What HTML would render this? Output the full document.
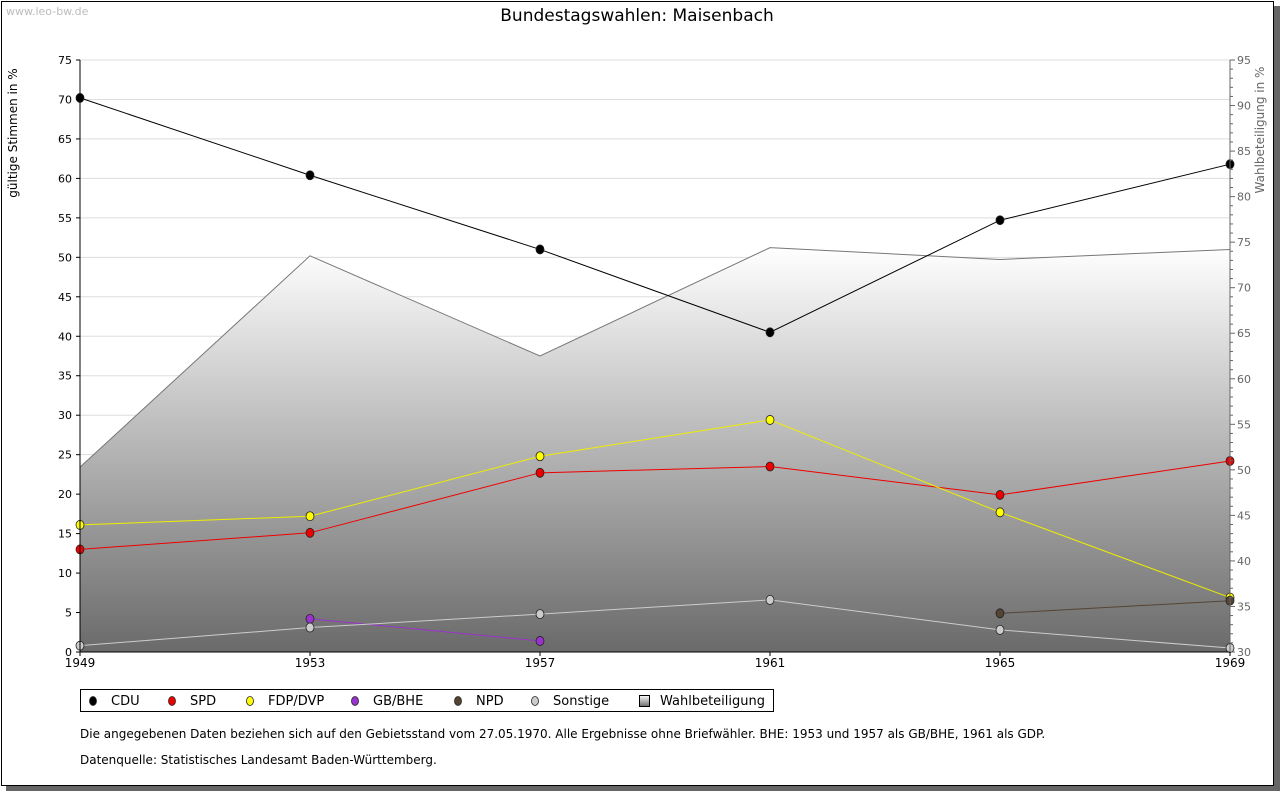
<!DOCTYPE html>
<html><head><meta charset="utf-8"><style>
body{margin:0;background:#fff;font-family:"DejaVu Sans","Liberation Sans",sans-serif}
svg text{font-family:"DejaVu Sans","Liberation Sans",sans-serif}
</style></head><body>
<svg id="c" width="1280" height="791" xmlns="http://www.w3.org/2000/svg">
<defs><linearGradient id="g" x1="0" y1="0" x2="0" y2="1"><stop offset="0" stop-color="#ffffff"/><stop offset="1" stop-color="#6a6a6a"/></linearGradient></defs>
<rect x="6" y="6" width="1274" height="785" fill="#666"/>
<rect x="1.5" y="1.5" width="1272" height="784" fill="#fff" stroke="#000"/>
<text x="6" y="15" font-size="11" fill="#bbb">www.leo-bw.de</text>
<text x="637" y="21" font-size="17" text-anchor="middle">Bundestagswahlen: Maisenbach</text>
<text transform="translate(17,133) rotate(-90)" font-size="12" text-anchor="middle">gültige Stimmen in %</text>
<text transform="translate(1264,130) rotate(-90)" font-size="12" fill="#666" text-anchor="middle">Wahlbeteiligung in %</text>
<g id="grid"></g><g id="area"></g><g id="lines"></g><g id="axes"></g>
<g>
<rect x="80.5" y="689.5" width="693" height="22" fill="#fff" stroke="#000"/>
<g id="leg"></g></g>
<text x="80" y="738" font-size="12">Die angegebenen Daten beziehen sich auf den Gebietsstand vom 27.05.1970. Alle Ergebnisse ohne Briefwähler. BHE: 1953 und 1957 als GB/BHE, 1961 als GDP.</text>
<text x="80" y="764" font-size="12">Datenquelle: Statistisches Landesamt Baden-Württemberg.</text>
</svg>
<script>
const years=["1949","1953","1957","1961","1965","1969"];
const cdu=[70.2,60.4,51.0,40.5,54.7,61.8];
const spd=[13.0,15.1,22.7,23.5,19.9,24.2];
const fdp=[16.1,17.2,24.8,29.4,17.7,6.9];
const gbbhe=[null,4.2,1.4,null,null,null];
const npd=[null,null,null,null,4.9,6.5];
const sonstige=[0.8,3.1,4.8,6.6,2.8,0.5];
const turnout=[50.3,73.5,62.5,74.4,73.1,74.2];
const leftTicks=[0,5,10,15,20,25,30,35,40,45,50,55,60,65,70,75];
const rightTicks=[30,35,40,45,50,55,60,65,70,75,80,85,90,95];
const NS="http://www.w3.org/2000/svg";
const X0=80,X1=1230,Y0=652,Y1=60;
const xs=i=>X0+(X1-X0)*i/(years.length-1);
const yl=v=>Y0-(Y0-Y1)*v/75;
const yr=v=>Y0-(Y0-Y1)*(v-30)/65;
function mk(t,a,p){const e=document.createElementNS(NS,t);for(const k in a)e.setAttribute(k,a[k]);p.appendChild(e);return e;}
const grid=document.getElementById('grid'),axes=document.getElementById('axes'),area=document.getElementById('area'),lines=document.getElementById('lines');
leftTicks.forEach(v=>{const y=yl(v);
 if(v>0){const l=mk('line',{x1:X0,x2:X1,y1:y,y2:y,stroke:'#ddd'},grid);}
 mk('line',{x1:X0-4,x2:X0,y1:y,y2:y,stroke:'#000'},axes);
 const t=mk('text',{x:X0-8,y:y+4,'font-size':11,'text-anchor':'end'},axes);t.textContent=v;
 });
for(let v=30;v<=95;v++){const y=yr(v);mk('line',{x1:X1,x2:X1+(v%5?3:5),y1:y,y2:y,stroke:'#666'},axes);}
rightTicks.forEach(v=>{const t=mk('text',{x:X1+7,y:yr(v)+4,'font-size':11,fill:'#666'},axes);t.textContent=v;
 });
years.forEach((yv,i)=>{mk('line',{x1:xs(i),x2:xs(i),y1:Y0,y2:Y0+4,stroke:'#000'},axes);
 const t=mk('text',{x:xs(i),y:Y0+15,'font-size':12,'text-anchor':'middle'},axes);t.textContent=yv;
 });
mk('line',{x1:X0,x2:X0,y1:Y1,y2:Y0,stroke:'#000'},axes);
mk('line',{x1:X0,x2:X1,y1:Y0,y2:Y0,stroke:'#000'},axes);
mk('line',{x1:X1,x2:X1,y1:Y1,y2:Y0,stroke:'#666'},axes);
let d='M'+X0+','+Y0;turnout.forEach((v,i)=>d+=' L'+xs(i)+','+yr(v));d+=' L'+X1+','+Y0+' Z';
const ar=mk('path',{d:d,fill:'url(#g)'},area);
let d2='';turnout.forEach((v,i)=>d2+=(i?' L':'M')+xs(i)+','+yr(v));
mk('path',{d:d2,fill:'none',stroke:'#777'},area);
const series=[['cdu',cdu,'#000','#000'],['spd',spd,'#e00','#e00'],['fdp',fdp,'#ee0','#ff0'],['gbbhe',gbbhe,'#93c','#93c'],['npd',npd,'#543','#543'],['sonstige',sonstige,'#ccc','#ccc']];
series.forEach(([n,arr,c,f])=>{let p='',first=true;arr.forEach((v,i)=>{if(v==null)return;p+=(first?'M':' L')+xs(i)+','+yl(v);first=false;});
 const l=mk('path',{d:p,fill:'none',stroke:c,'stroke-width':1},lines);
 arr.forEach((v,i)=>{if(v==null)return;const m=mk('ellipse',{cx:xs(i),cy:yl(v),rx:4,ry:4.5,fill:f,stroke:'#222','stroke-width':0.8},lines);
  });});
const leg=document.getElementById('leg');
const legItems=[['CDU','#000',93],['SPD','#e00',172],['FDP/DVP','#ff0',250],['GB/BHE','#93c',355],['NPD','#543',458],['Sonstige','#ccc',535]];
legItems.forEach(([t,c,x])=>{mk('ellipse',{cx:x,cy:701,rx:3.5,ry:4.5,fill:c,stroke:'#222','stroke-width':0.8},leg);
 const tx=mk('text',{x:x+18,y:705,'font-size':13},leg);tx.textContent=t;});
mk('rect',{x:639.5,y:695.5,width:10,height:11,fill:'url(#g)',stroke:'#000'},leg);
const wt=mk('text',{x:660,y:705,'font-size':13},leg);wt.textContent='Wahlbeteiligung';

</script>
</body></html>
